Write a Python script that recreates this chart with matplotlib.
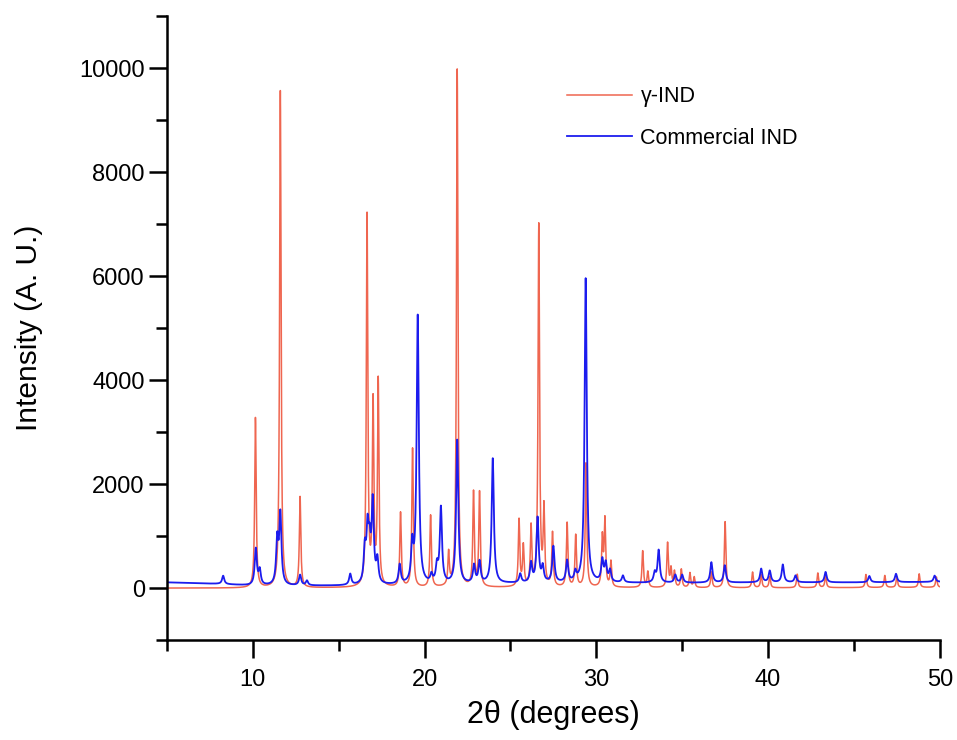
import numpy as np
import matplotlib
matplotlib.use("Agg")
from matplotlib import pyplot as plt
from matplotlib.ticker import MultipleLocator

# peak positions (2theta, deg) and heights
gamma_pos = [10.15, 11.6, 12.75, 16.65, 17.0, 17.3, 18.6, 19.3, 20.35, 21.4, 21.9,
             22.85, 23.2, 25.5, 25.75, 26.2, 26.65, 26.95, 27.45, 28.3, 28.8, 29.4,
             30.35, 30.5, 30.85, 32.7, 33.0, 34.15, 34.35, 34.55, 34.95, 35.45, 35.7,
             36.7, 37.5, 39.1, 39.6, 40.1, 41.7, 42.9, 43.35, 45.7, 46.8, 47.5, 48.8, 49.8]
gamma_int = [3270, 9560, 1740, 7130, 3480, 3930, 1430, 2670, 1380, 630, 9960,
             1810, 1810, 1280, 770, 1130, 6950, 1460, 1030, 1230, 990, 2380,
             930, 1270, 490, 700, 300, 850, 350, 300, 350, 280, 200,
             300, 1270, 300, 250, 220, 260, 280, 230, 250, 230, 200, 260, 200]

comm_pos = [8.27, 10.17, 10.4, 11.42, 11.6, 12.75, 13.15, 15.67, 16.52, 16.68, 16.8,
            16.98, 17.25, 18.55, 19.28, 19.6, 20.4, 20.72, 20.95, 21.9, 22.88, 23.2,
            23.97, 25.57, 26.2, 26.58, 26.88, 27.5, 28.3, 28.78, 29.38, 30.35, 30.55,
            30.8, 31.55, 33.4, 33.63, 34.6, 35.0, 36.7, 37.48, 39.6, 40.1, 40.86,
            41.6, 43.35, 45.9, 47.45, 49.7]
comm_int = [160, 700, 280, 840, 1340, 200, 90, 210, 640, 980, 640,
            1550, 440, 370, 700, 5150, 150, 320, 1450, 2760, 340, 410,
            2400, 170, 370, 1240, 290, 690, 410, 170, 5850, 410, 340,
            220, 130, 180, 620, 150, 150, 390, 330, 260, 220, 340,
            130, 200, 120, 160, 120]

# slowly varying background (knots)
bg_x = [5, 8, 10, 15, 20, 25, 30, 35, 40, 45, 50]
gamma_bg = [0, 0, 0, 5, 5, 10, 10, 5, 5, 10, 15]
comm_bg = [110, 80, 45, 45, 60, 90, 100, 100, 110, 110, 120]


def pattern(x, pos, height, fwhm, bg):
    y = np.interp(x, bg_x, bg).astype(float)
    g = fwhm / 2.0
    for p, h in zip(pos, height):
        y += h * g ** 2 / ((x - p) ** 2 + g ** 2)
    return y


two_theta = np.arange(5, 50.001, 0.01)
gamma_y = pattern(two_theta, gamma_pos, gamma_int, 0.10, gamma_bg)
comm_y = pattern(two_theta, comm_pos, comm_int, 0.15, comm_bg)

plt.rcParams['font.family'] = ['Liberation Sans', 'DejaVu Sans']

fig = plt.figure(figsize=(9.57, 7.4), dpi=100)
ax = fig.add_axes([0.1745, 0.135, 0.8075, 0.843])

ax.plot(two_theta, gamma_y, color='#EF6650', lw=1.1, label='γ-IND')
ax.plot(two_theta, comm_y, color='#1C1CEE', lw=1.3, label='Commercial IND')

ax.set_xlim(5, 50)
ax.set_ylim(-1000, 11000)
ax.xaxis.set_minor_locator(MultipleLocator(5))
ax.yaxis.set_major_locator(MultipleLocator(2000))
ax.yaxis.set_minor_locator(MultipleLocator(1000))
ax.set_xticks([10, 20, 30, 40, 50])

for side in ['top', 'right']:
    ax.spines[side].set_visible(False)
for side in ['left', 'bottom']:
    ax.spines[side].set_linewidth(1.8)

ax.tick_params(which='both', direction='out', width=1.8, colors='black')
ax.tick_params(which='major', length=13)
ax.tick_params(which='minor', length=8)
ax.tick_params(axis='y', labelsize=17, pad=3)
ax.tick_params(axis='x', labelsize=17, pad=8)

ax.set_ylabel('Intensity (A. U.)', fontsize=21.5, labelpad=26)
ax.set_xlabel('2θ (degrees)', fontsize=22, labelpad=6)

ax.legend(loc='upper left', bbox_to_anchor=(0.518, 0.888), frameon=False,
          fontsize=15.5, handlelength=3.0, handletextpad=0.4, labelspacing=0.95,
          borderpad=0, borderaxespad=0)

fig.savefig('out.png', dpi=100)
